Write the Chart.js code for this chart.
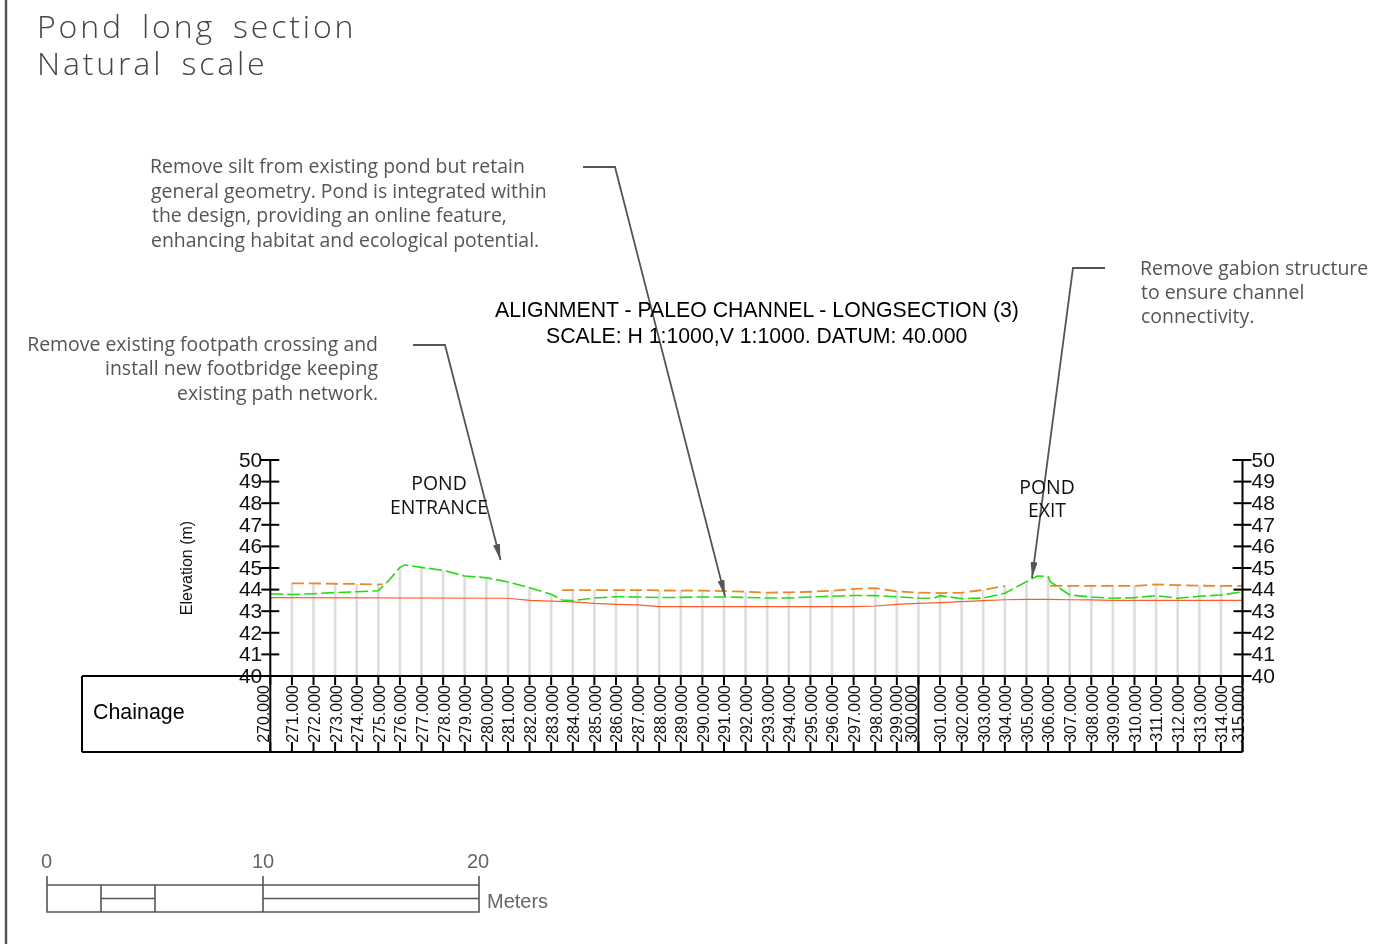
<!DOCTYPE html>
<html><head><meta charset="utf-8">
<script src="https://cdn.jsdelivr.net/npm/chart.js@4"></script>
<style>
html,body{margin:0;padding:0;background:#fff;width:1395px;height:944px;overflow:hidden}
#wrap{position:relative;width:1395px;height:944px}
canvas{position:absolute;left:0;top:0}
svg{position:absolute;left:0;top:0}
.t{position:absolute;white-space:nowrap;line-height:1}
.title{font-family:"Open Sans";font-weight:300;font-size:32px;letter-spacing:2.85px;word-spacing:7px;color:#444}
.note{font-family:"Open Sans";font-size:19.45px;color:#555}
.head{font-family:"Liberation Sans";font-size:21.25px;color:#000}
.pond{font-family:"Open Sans";font-size:19.4px;color:#111;text-align:center;transform:translateX(-50%)}
.scale{font-family:"Liberation Sans";font-size:20px;color:#666}
</style></head><body>
<div id="wrap">
<canvas id="c" width="1395" height="944"></canvas>
<svg width="1395" height="944" viewBox="0 0 1395 944">
 <defs><marker id="ah" markerWidth="16" markerHeight="7" refX="16" refY="3.5" orient="auto" markerUnits="userSpaceOnUse"><path d="M0 0L16 3.5L0 7Z" fill="#555"/></marker></defs>
 <line x1="6" y1="0" x2="6" y2="944" stroke="#555" stroke-width="2.5"/>
 <g fill="none" stroke="#555" stroke-width="1.8">
  <polyline points="413,345 445,345 500.5,560" marker-end="url(#ah)"/>
  <polyline points="583,167 615,167 725,596" marker-end="url(#ah)"/>
  <polyline points="1105,268 1073,268 1032,578" marker-end="url(#ah)"/>
 </g>
 <g fill="none" stroke="#555" stroke-width="1.6">
  <path d="M47 876V912H479V876M47 885H479M101 885V912M155 885V912M263 876V912M101 898.5H155M263 898.5H479"/>
 </g>
</svg>
<div class="t title" style="left:37px;top:10px">Pond long section</div>
<div class="t title" style="left:37px;top:47px">Natural scale</div>
<div class="t note" style="left:150px;top:156px">Remove silt from existing pond but retain</div>
<div class="t note" style="left:151px;top:181px">general geometry. Pond is integrated within</div>
<div class="t note" style="left:152px;top:205px">the design, providing an online feature,</div>
<div class="t note" style="left:151px;top:230px">enhancing habitat and ecological potential.</div>
<div class="t note" style="right:1017px;top:334px">Remove existing footpath crossing and</div>
<div class="t note" style="right:1017px;top:358px">install new footbridge keeping</div>
<div class="t note" style="right:1017px;top:383px">existing path network.</div>
<div class="t note" style="left:1140px;top:258px">Remove gabion structure</div>
<div class="t note" style="left:1141px;top:282px">to ensure channel</div>
<div class="t note" style="left:1141px;top:306px">connectivity.</div>
<div class="t head" style="left:495px;top:300px">ALIGNMENT - PALEO CHANNEL - LONGSECTION (3)</div>
<div class="t head" style="left:546px;top:326px">SCALE: H 1:1000,V 1:1000. DATUM: 40.000</div>
<div class="t pond" style="left:439px;top:473px">POND</div>
<div class="t pond" style="left:439px;top:497px">ENTRANCE</div>
<div class="t pond" style="left:1047px;top:477px">POND</div>
<div class="t pond" style="left:1047px;top:500px">EXIT</div>
<div class="t head" style="left:93px;top:702px;font-size:21.4px">Chainage</div>
<div class="t scale" style="left:41px;top:851px">0</div>
<div class="t scale" style="left:252px;top:851px">10</div>
<div class="t scale" style="left:467px;top:851px">20</div>
<div class="t scale" style="left:487px;top:891px">Meters</div>
</div>
<script>
// Chainage stations for the vertical drop lines and their top elevations
const stationX = [271,272,273,274,275,276,277,278,279,280,281,282,283,284,285,286,287,288,289,290,291,292,293,294,295,296,297,298,299,300,301,302,303,304,305,306,307,308,309,310,311,312,313,314];
const stationTop = [44.29,44.29,44.27,44.26,44.24,45.03,45.03,44.89,44.63,44.55,44.35,44.09,43.78,43.98,43.98,43.98,43.98,43.96,43.95,43.95,43.93,43.9,43.86,43.87,43.9,43.95,44.03,44.07,43.92,43.86,43.84,43.86,43.98,44.17,44.37,44.6,44.17,44.17,44.17,44.17,44.24,44.21,44.18,44.17];

// Existing bed level (red)
const redX = [270,281,282,283,284,285,286,287,288,297,298,299,300,301,302,303,304,305,306,307,308,309,315];
const redY = [43.63,43.6,43.5,43.47,43.43,43.36,43.32,43.29,43.21,43.21,43.24,43.32,43.36,43.4,43.44,43.49,43.53,43.55,43.55,43.53,43.52,43.5,43.5];

// Green dashed profile
const greenX = [270,271,272,273,274,275,275.5,276,276.2,277,278,279,280,281,282,283,283.5,284,285,286,287,288,289,290,291,292,293,294,295,296,297,298,299,300,300.7,301,302,303,304,305,305.5,306,306.1,307,308,309,310,311,312,313,314,315];
const greenY = [43.81,43.77,43.81,43.86,43.9,43.95,44.44,45.03,45.14,45.03,44.89,44.63,44.55,44.35,44.09,43.78,43.52,43.49,43.61,43.67,43.66,43.63,43.64,43.66,43.66,43.64,43.61,43.61,43.66,43.69,43.73,43.72,43.67,43.61,43.6,43.72,43.58,43.61,43.83,44.37,44.63,44.6,44.37,43.75,43.66,43.6,43.63,43.72,43.6,43.69,43.75,43.9];

// Orange dashed profile
const orangeX = [271,272,273,274,275,275.2,280,283.5,284,285,286,287,288,289,290,291,292,293,294,295,296,297,298,299,300,301,302,303,304,305,306.1,307,308,309,310,311,312,313,314,315];
const orangeY = [44.29,44.29,44.27,44.26,44.24,44.24,null,43.98,43.98,43.98,43.98,43.98,43.96,43.95,43.95,43.93,43.9,43.86,43.87,43.9,43.95,44.03,44.07,43.92,43.86,43.84,43.86,43.98,44.17,null,44.17,44.17,44.17,44.17,44.17,44.24,44.21,44.18,44.17,44.17];

// Labels that sit off their tick in the drawing
const labelShift = {270:-8, 299:-1, 300:-8, 315:-5};

const pts = (xs, ys) => xs.map((x, i) => ({x, y: ys[i]}));
const FONT = "Liberation Sans";

const framePlugin = {
  id: 'frame',
  beforeDraw(chart) {
    const {x: sx, y: sy, y2: sy2} = chart.scales;
    if (!sx._shifted) {
      sx.getLabelItems().forEach((it, i) => {
        const s = labelShift[sx.ticks[i].value] || 0;
        it.options.translation[0] += s + 2;
      });
      [sy, sy2].forEach(s => s.getLabelItems().forEach(it => { it.options.translation[1] += 1; }));
      sx._shifted = true;
    }
  },
  afterDraw(chart) {
    const {ctx, scales: {x, y}} = chart;
    const top = y.getPixelForValue(40), upper = y.getPixelForValue(50);
    const bottom = 752, tableLeft = 82;
    const xa = x.getPixelForValue(270), xb = x.getPixelForValue(315), xm = x.getPixelForValue(300);
    ctx.save();
    ctx.strokeStyle = '#000'; ctx.lineWidth = 2; ctx.lineCap = 'butt';
    const seg = (a, b, c, d) => { ctx.beginPath(); ctx.moveTo(a, b); ctx.lineTo(c, d); ctx.stroke(); };
    seg(xa, upper, xa, bottom);
    seg(xb, upper, xb, bottom);
    seg(xm, top, xm, bottom);
    seg(tableLeft, top, xb, top);
    seg(tableLeft, bottom, xb, bottom);
    seg(tableLeft, top, tableLeft, bottom);
    y.ticks.forEach(t => {
      const p = y.getPixelForValue(t.value);
      const major = t.value % 5 === 0;
      seg(xa - (major ? 10 : 9), p, xa + 9, p);
      seg(xb - (major ? 10 : 9), p, xb + 9, p);
    });
    x.ticks.forEach(t => {
      const p = x.getPixelForValue(t.value);
      seg(p, top, p, top + 9);
      seg(p, bottom - 10, p, bottom);
    });
    ctx.restore();
  }
};

new Chart(document.getElementById('c'), {
  type: 'line',
  plugins: [framePlugin],
  data: { datasets: [
    {type:'bar', data: pts(stationX, stationTop), backgroundColor:'#dedede', barThickness:2, order:10},
    {data: pts(redX, redY), borderColor:'#FF5A2A', borderWidth:1.2, pointRadius:0, order:3, tension:0},
    {data: pts(orangeX, orangeY), borderColor:'#E8882C', borderWidth:1.8, borderDash:[12,5], pointRadius:0, spanGaps:false, order:2, tension:0},
    {data: pts(greenX, greenY), borderColor:'#22DD11', borderWidth:1.6, borderDash:[13,4], pointRadius:0, order:1, tension:0}
  ]},
  options: {
    responsive:false, animation:false, devicePixelRatio:1,
    layout:{padding:{top:460,left:0,right:0,bottom:0}},
    plugins:{legend:{display:false},tooltip:{enabled:false}},
    scales:{
      x:{type:'linear',min:270,max:315,offset:false,
        grid:{display:false,drawTicks:false},border:{display:false},
        afterFit(s){s.height=268;},
        ticks:{stepSize:1,autoSkip:false,minRotation:90,maxRotation:90,padding:9,color:'#111',font:{family:FONT,size:16},
          callback:v=>v.toFixed(3)}},
      y:{type:'linear',position:'left',min:40,max:50,
        grid:{display:false,drawTicks:false},border:{display:false},
        afterFit(s){s.width=270.3;},
        title:{display:true,text:'Elevation (m)',color:'#111',font:{family:FONT,size:16},padding:{top:178,bottom:0}},
        ticks:{stepSize:1,autoSkip:false,padding:8,color:'#111',font:{family:FONT,size:21}}},
      y2:{type:'linear',position:'right',min:40,max:50,
        grid:{display:false,drawTicks:false},border:{display:false},
        afterFit(s){s.width=152.5;},
        ticks:{stepSize:1,autoSkip:false,padding:9,color:'#111',font:{family:FONT,size:21}}}
    }
  }
});
</script>
</body></html>
